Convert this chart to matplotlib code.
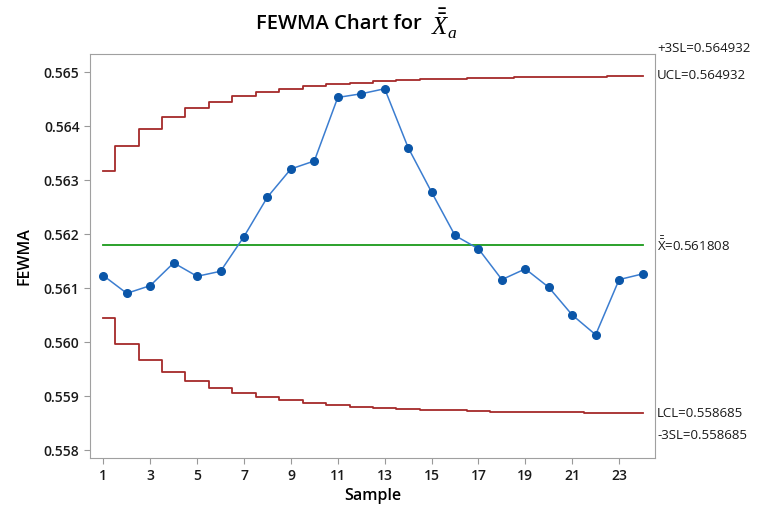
import numpy as np
import matplotlib
matplotlib.use('Agg')
import matplotlib.pyplot as plt

# 数据
samples = list(range(1, 25))
fewma = [0.561234, 0.560906, 0.561048, 0.561469, 0.561221, 0.561314,
         0.561957, 0.562687, 0.563207, 0.563355, 0.564530, 0.564598,
         0.564691, 0.563603, 0.562779, 0.561976, 0.561729, 0.561160,
         0.561358, 0.561017, 0.560505, 0.560139, 0.561160, 0.561265]
ucl = [0.563170, 0.563640, 0.563946, 0.564166, 0.564329, 0.564454,
       0.564551, 0.564628, 0.564688, 0.564736, 0.564774, 0.564805,
       0.564830, 0.564849, 0.564865, 0.564878, 0.564888, 0.564897,
       0.564903, 0.564909, 0.564913, 0.564917, 0.564920, 0.564922]
lcl = [0.560446, 0.559976, 0.559670, 0.559450, 0.559287, 0.559162,
       0.559065, 0.558988, 0.558928, 0.558880, 0.558842, 0.558811,
       0.558786, 0.558767, 0.558751, 0.558738, 0.558728, 0.558719,
       0.558713, 0.558707, 0.558703, 0.558699, 0.558696, 0.558694]
center = 0.561808
ucl_final = 0.564932
lcl_final = 0.558685
xticks = list(range(1, 24, 2))
yticks = [0.558, 0.559, 0.560, 0.561, 0.562, 0.563, 0.564, 0.565]

plt.rcParams['font.family'] = ['Open Sans', 'DejaVu Sans']
plt.rcParams['mathtext.fontset'] = 'custom'
plt.rcParams['mathtext.rm'] = 'Open Sans'
plt.rcParams['mathtext.it'] = 'Liberation Serif:italic'

fig = plt.figure(figsize=(7.79, 5.07), dpi=100)
ax = fig.add_axes([0.1155, 0.096, 0.7253, 0.7975])

red = '#A52A2A'
ax.step(samples, ucl, where='mid', color=red, lw=1.3)
ax.step(samples, lcl, where='mid', color=red, lw=1.3)
ax.plot([samples[0], samples[-1]], [center, center], color='#1A9A1A', lw=1.3)
ax.plot(samples, fewma, color='#3B7DD0', lw=1.1, marker='o', ms=5.5,
        mfc='#0B56A8', mec='#0B56A8')

ax.set_xlim(0.43, 24.53)
ax.set_ylim(0.557853, 0.565334)
ax.set_xticks(xticks)
ax.set_yticks(yticks)
ax.set_yticklabels(['%.3f' % v for v in yticks])
ax.tick_params(labelsize=10, labelcolor='#1a1a1a', length=4, color='#999999')
for lab in ax.get_xticklabels() + ax.get_yticklabels():
    lab.set_fontweight('semibold')
for s in ax.spines.values():
    s.set_color('#A0A0A0')

ax.set_xlabel('Sample', fontsize=11.5, labelpad=4, fontweight='semibold')
ax.set_ylabel('FEWMA', fontsize=11.5, labelpad=8, fontweight='semibold')

# 标题（文字 + 公式分开画）
fig.text(0.5413, 0.953, 'FEWMA Chart for', ha='right', va='center',
         fontsize=14.5, fontweight='semibold')
fig.text(0.553, 0.953, r'$\bar{\bar{X}}_a$', ha='left', va='center',
         fontsize=18)

# 右侧标注
tk = dict(transform=ax.get_yaxis_transform(), fontsize=9.5, va='center',
          ha='left', clip_on=False, color='#1a1a1a')
ax.text(1.004, ucl_final + 27 / 53900, '+3SL=%.6f' % ucl_final, **tk)
ax.text(1.004, ucl_final, 'UCL=%.6f' % ucl_final, **tk)
ax.text(1.004, center, r'$\mathrm{\bar{\bar{X}}}$=%.6f' % center, **tk)
ax.text(1.004, lcl_final, 'LCL=%.6f' % lcl_final, **tk)
ax.text(1.004, lcl_final - 22 / 53900, '-3SL=%.6f' % lcl_final, **tk)

fig.savefig('out.png', dpi=100)
